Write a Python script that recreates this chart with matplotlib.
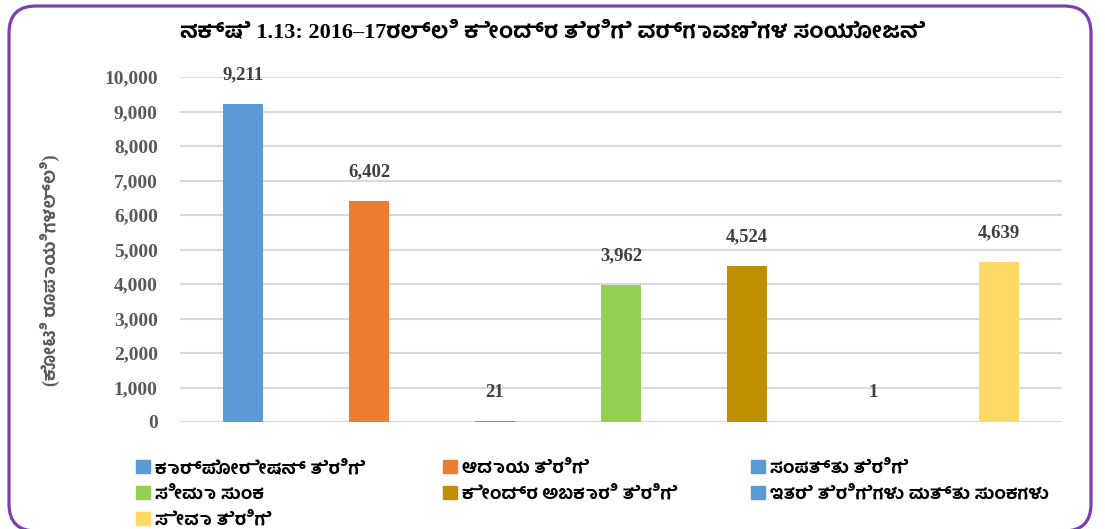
import matplotlib.pyplot as plt
from matplotlib.patches import FancyBboxPatch
from matplotlib.ticker import FuncFormatter

# data
categories = ['ಕಾರ್ಪೋರೇಷನ್ ತೆರಿಗೆ', 'ಆದಾಯ ತೆರಿಗೆ', 'ಸಂಪತ್ತು ತೆರಿಗೆ', 'ಸೀಮಾ ಸುಂಕ',
              'ಕೇಂದ್ರ ಅಬಕಾರಿ ತೆರಿಗೆ', 'ಇತರೆ ತೆರಿಗೆಗಳು ಮತ್ತು ಸುಂಕಗಳು', 'ಸೇವಾ ತೆರಿಗೆ']
values = [9211, 6402, 21, 3962, 4524, 1, 4639]
colors = ['#5B9BD5', '#ED7D31', '#5B9BD5', '#92D050', '#BF8F00', '#5B9BD5', '#FFD966']
yticks = [0, 1000, 2000, 3000, 4000, 5000, 6000, 7000, 8000, 9000, 10000]

title = 'ನಕ್ಷೆ 1.13: 2016–17ರಲ್ಲಿ ಕೇಂದ್ರ ತೆರಿಗೆ ವರ್ಗಾವಣೆಗಳ ಸಂಯೋಜನೆ'
ylabel = '(ಕೋಟಿ ರೂಪಾಯಿಗಳಲ್ಲಿ)'

fam = ['Liberation Serif', 'Hind Mysuru', 'DejaVu Sans']

fig = plt.figure(figsize=(11.05, 5.29), dpi=100)
ax = fig.add_axes([180/1105, 107/529, 882/1105, 345/529])

x = list(range(len(values)))
bars = ax.bar(x, values, width=0.32, color=colors, zorder=3)

ax.set_xlim(-0.5, len(values) - 0.5)
ax.set_ylim(0, 10000)
ax.set_yticks(yticks)
ax.yaxis.set_major_formatter(FuncFormatter(lambda v, p: f'{int(v):,}'))
ax.set_xticks([])
ax.grid(axis='y', color='#D9D9D9', linewidth=1.5, zorder=0)
for s in ax.spines.values():
    s.set_visible(False)
ax.tick_params(axis='y', length=0, pad=16)
for lab in ax.get_yticklabels():
    lab.set_family(fam)
    lab.set_fontweight('bold')
    lab.set_fontsize(14)
    lab.set_color('#595959')

for b, v in zip(bars, values):
    ax.annotate(f'{v:,}', (b.get_x() + b.get_width()/2, v),
                xytext=(0, 21), textcoords='offset points',
                ha='center', va='center', fontsize=13.5, fontweight='bold',
                family=fam, color='#404040')

fig.text(0.5, 1 - 32/529, title, ha='center', va='center', fontsize=16,
         fontweight='bold', family=fam, color='black')
fig.text(50/1105, 1 - 270/529, ylabel, rotation=90, ha='center', va='center',
         fontsize=13, fontweight='bold', family=fam, color='#595959')

# legend, three columns laid out row by row
handles = [plt.Rectangle((0, 0), 1, 1, color=c) for c in colors]
cols = [[0, 3, 6], [1, 4], [2, 5]]
xs = [127/1105, 434/1105, 742/1105]
for cx, idx in zip(xs, cols):
    leg = fig.legend([handles[i] for i in idx], [categories[i] for i in idx],
                     loc='upper left', bbox_to_anchor=(cx, 1 - 451/529),
                     frameon=False, handlelength=0.75, handleheight=0.75,
                     handletextpad=0.3, labelspacing=0.5, borderpad=0,
                     prop={'family': fam, 'weight': 'bold', 'size': 13})

# rounded border
border = FancyBboxPatch((0.09, -0.02), 10.82, 5.25,
                        boxstyle='round,pad=0,rounding_size=0.27',
                        transform=fig.dpi_scale_trans, fill=False,
                        edgecolor='#7B3FB0', linewidth=2.3)
fig.patches.append(border)

fig.savefig('out.png', dpi=100)
